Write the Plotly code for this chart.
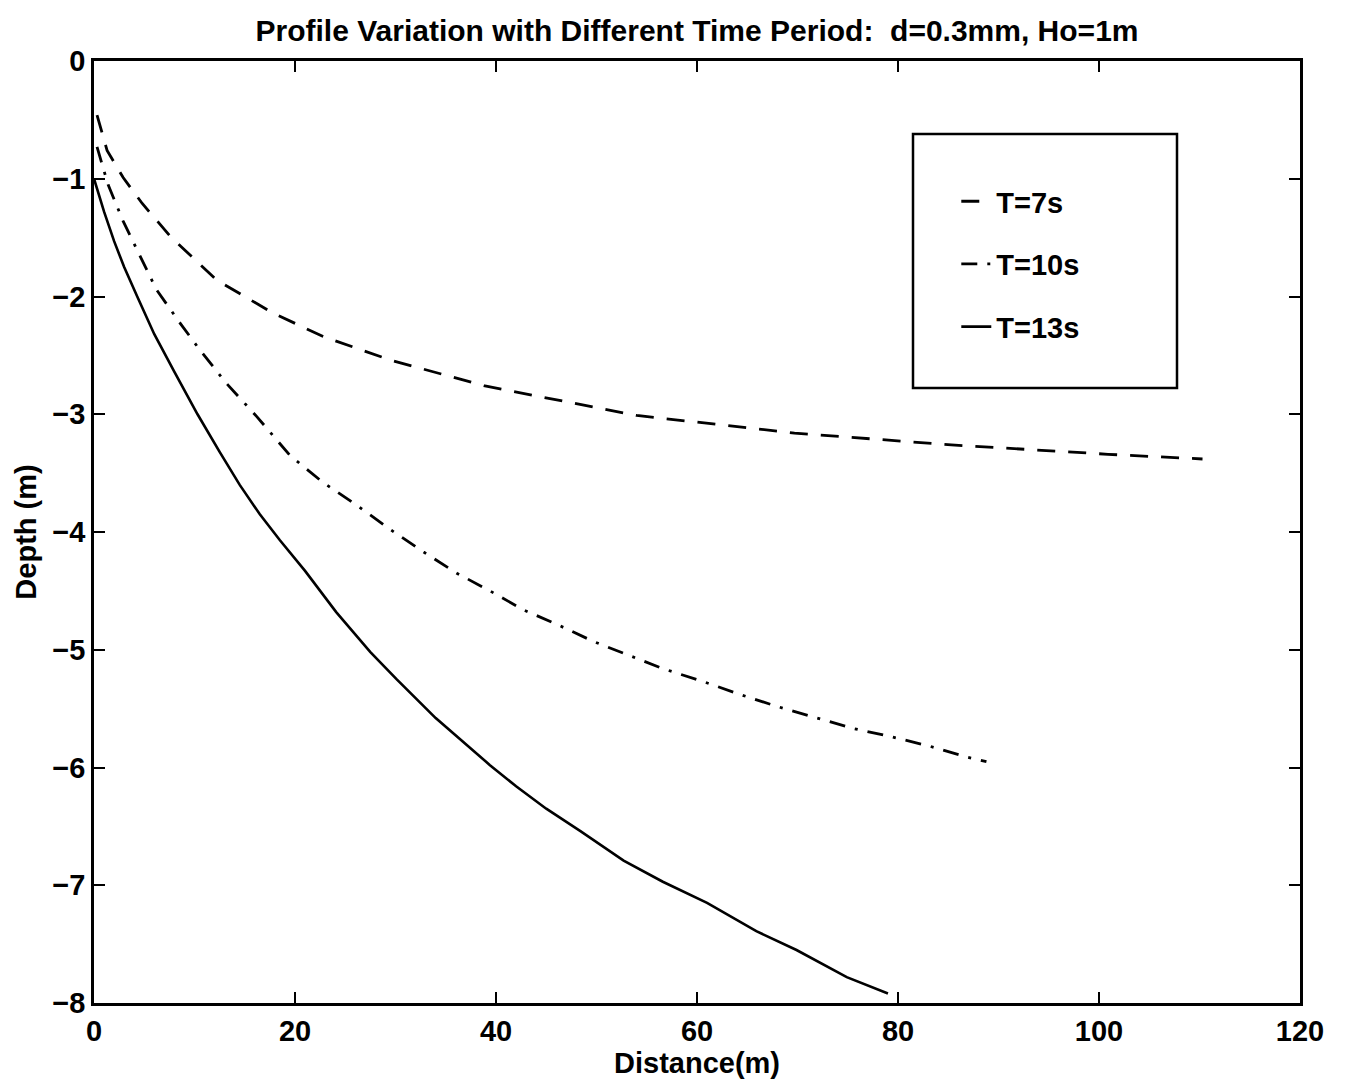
import plotly.graph_objects as go

# ---- data ----
t7_x = [0.3, 1.3, 2.9, 4.8, 7.6, 12.2, 17.8, 22.8, 29.5, 38.9, 54.0, 69.7, 85.3, 100.9, 110.3]
t7_y = [-0.46, -0.76, -0.99, -1.21, -1.49, -1.86, -2.14, -2.34, -2.54, -2.76, -3.01, -3.16, -3.26, -3.34, -3.38]

t10_x = [0.3, 1.4, 2.9, 4.6, 6.2, 8.6, 10.5, 13.2, 16.2, 19.5, 22.8, 26.1, 29.5, 32.8, 36.1,
         39.4, 42.7, 46.2, 49.7, 53.0, 56.6, 60.6, 64.3, 67.9, 71.6, 75.6, 79.4, 83.2, 86.8, 88.8]
t10_y = [-0.73, -1.05, -1.36, -1.66, -1.94, -2.23, -2.45, -2.74, -3.02, -3.35, -3.58, -3.77, -3.98, -4.17, -4.35,
         -4.50, -4.66, -4.79, -4.93, -5.04, -5.16, -5.27, -5.38, -5.48, -5.57, -5.67, -5.74, -5.82, -5.91, -5.95]

t13_x = [0.0, 1.0, 2.0, 3.0, 4.3, 6.0, 8.0, 10.3, 12.5, 14.5, 16.5, 18.5, 21.0, 24.1, 27.5, 30.1,
         34.0, 37.1, 39.4, 42.0, 45.0, 48.4, 52.7, 56.6, 61.0, 65.9, 69.9, 74.9, 79.0]
t13_y = [-1.00, -1.28, -1.53, -1.75, -2.00, -2.32, -2.64, -3.00, -3.32, -3.60, -3.85, -4.07, -4.33, -4.68, -5.02, -5.25,
         -5.58, -5.81, -5.98, -6.16, -6.35, -6.54, -6.79, -6.97, -7.15, -7.39, -7.55, -7.78, -7.92]

series_names = ["T=7s", "T=10s", "T=13s"]
x_ticks = [0, 20, 40, 60, 80, 100, 120]
y_ticks = [0, -1, -2, -3, -4, -5, -6, -7, -8]

FONT = "Liberation Sans, Arial, Helvetica, sans-serif"
FS = 29

fig = go.Figure()
fig.add_trace(go.Scatter(x=t7_x, y=t7_y, mode="lines", name=series_names[0], legendgroup="a",
                         line=dict(color="black", width=2.8, dash="18px,13px")))
fig.add_trace(go.Scatter(x=t10_x, y=t10_y, mode="lines", name=series_names[1], legendgroup="b",
                         line=dict(color="black", width=2.8, dash="16px,10px,3px,10px")))
fig.add_trace(go.Scatter(x=t13_x, y=t13_y, mode="lines", name=series_names[2], legendgroup="c",
                         line=dict(color="black", width=2.6)))

axis_common = dict(
    showline=True, linecolor="black", linewidth=2.5, mirror="ticks",
    ticks="inside", ticklen=11, tickwidth=2, tickcolor="black",
    showgrid=False, zeroline=False,
    tickfont=dict(family=FONT, size=FS, color="black", weight="bold"),
)

fig.update_layout(
    width=1345, height=1089,
    margin=dict(l=94, r=45, t=61, b=86),
    paper_bgcolor="white", plot_bgcolor="white",
    font=dict(family=FONT, color="black"),
    title=dict(text="Profile Variation with Different Time Period:  d=0.3mm, Ho=1m",
               x=(94 + 1300) / 2 / 1345, xanchor="center", y=1 - 30 / 1089, yanchor="middle",
               font=dict(family=FONT, size=30, color="black", weight="bold")),
    xaxis=dict(range=[0, 120], tickvals=x_ticks, ticktext=[str(v) for v in x_ticks],
               title=dict(text="Distance(m)", font=dict(family=FONT, size=FS, color="black", weight="bold"),
                          standoff=0),
               **axis_common),
    yaxis=dict(range=[-8, 0], tickvals=y_ticks, ticktext=["0"] + ["\u2212" + str(-v) for v in y_ticks[1:]],
               title=dict(text="Depth (m)", font=dict(family=FONT, size=FS, color="black", weight="bold"),
                          standoff=8),
               **axis_common),
    legend=dict(x=0.715, y=0.878, xanchor="left", yanchor="top",
                bgcolor="rgba(0,0,0,0)", borderwidth=0,
                font=dict(family=FONT, size=FS, color="black", weight="bold"),
                traceorder="grouped", tracegroupgap=22, itemwidth=30),
    shapes=[dict(type="rect", xref="paper", yref="paper",
                 x0=(913 - 94) / 1206, x1=(1177 - 94) / 1206,
                 y0=(1003 - 388) / 942, y1=(1003 - 134) / 942,
                 line=dict(color="black", width=2.5), fillcolor="rgba(0,0,0,0)", layer="above")],
)

fig.write_html("out.html")
